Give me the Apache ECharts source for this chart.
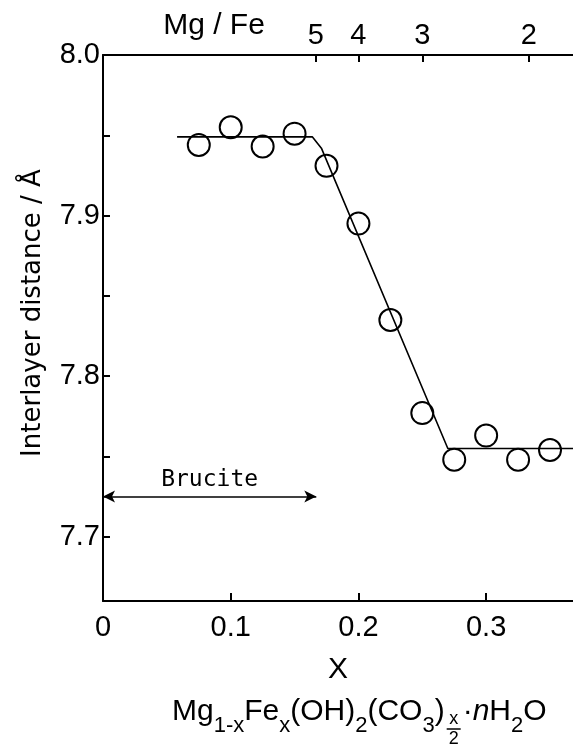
<!DOCTYPE html>
<html>
<head>
<meta charset="utf-8">
<script src="https://cdn.jsdelivr.net/npm/echarts@6/dist/echarts.min.js"></script>
<style>
  html, body { margin: 0; padding: 0; background: #fff; }
  #chart { width: 573px; height: 744px; }
</style>
</head>
<body>
<div id="chart"></div>
<script>
// ---------- DATA ----------
const xValues = [0.075, 0.1, 0.125, 0.15, 0.175, 0.2, 0.225, 0.25, 0.275, 0.3, 0.325, 0.35];
const distances = [7.944, 7.955, 7.943, 7.951, 7.931, 7.895, 7.835, 7.777, 7.748, 7.763, 7.748, 7.754];

// hand-drawn guide line through the points
const trendX = [0.058, 0.164, 0.171, 0.27, 0.368];
const trendY = [7.949, 7.949, 7.942, 7.755, 7.755];

// brucite reference arrow: from x = 0 to x = 1/6, at this distance
const bruciteRange = [0, 0.167];
const bruciteLevel = 7.725;

const xLabelValues = [0, 0.1, 0.2, 0.3];
const xTickValues = [0.1, 0.2, 0.3];
const yLabelValues = [7.7, 7.8, 7.9, 8.0];
const yTickValues = [7.7, 7.75, 7.8, 7.85, 7.9, 7.95, 8.0];
const mgFeRatios = [5, 4, 3, 2];

const FONT = 'Liberation Sans';
const AXIS_MIN_X = 0, AXIS_MAX_X = 0.368;

// Mg/Fe = (1-x)/x  ->  x = 1/(1+r)
const mgFeTicks = mgFeRatios.map(r => 1 / (1 + r));

function mgFeLabel(v) {
  for (let i = 0; i < mgFeTicks.length; i++) {
    if (Math.abs(mgFeTicks[i] - v) < 1e-6) return String(mgFeRatios[i]);
  }
  return '';
}

// ---------- formula under the x axis ----------
const measureCtx = document.createElement('canvas').getContext('2d');
function textWidth(t, size, style) {
  measureCtx.font = (style || 'normal') + ' ' + size + 'px "' + FONT + '"';
  return measureCtx.measureText(t).width;
}

function buildFormula(left, baseline) {
  const big = 30, small = 22;
  const parts = [
    { t: 'Mg', s: big }, { t: '1-x', s: small, sub: true },
    { t: 'Fe', s: big }, { t: 'x', s: small, sub: true },
    { t: '(OH)', s: big }, { t: '2', s: small, sub: true },
    { t: '(CO', s: big }, { t: '3', s: small, sub: true },
    { t: ')', s: big }, { frac: true },
    { t: '·', s: big }, { t: 'n', s: big, style: 'italic' },
    { t: 'H', s: big }, { t: '2', s: small, sub: true }, { t: 'O', s: big }
  ];
  const els = [];
  let x = left;
  parts.forEach(p => {
    if (p.frac) {
      const w = 16;
      const cx = x + w / 2 + 1;
      els.push({ type: 'text', x: cx, y: baseline + 8, style: { text: 'x', fontSize: 18, fontFamily: FONT, fill: '#000', align: 'center', verticalAlign: 'bottom' } });
      els.push({ type: 'line', shape: { x1: cx - 7, y1: baseline + 9, x2: cx + 7, y2: baseline + 9 }, style: { stroke: '#000', lineWidth: 1.5 } });
      els.push({ type: 'text', x: cx, y: baseline + 10, style: { text: '2', fontSize: 18, fontFamily: FONT, fill: '#000', align: 'center', verticalAlign: 'top' } });
      x += w + 2;
      return;
    }
    const y = p.sub ? baseline + 12 : baseline;
    els.push({
      type: 'text', x: x, y: y + p.s * 0.22,
      style: { text: p.t, fontSize: p.s, fontFamily: FONT, fontStyle: p.style || 'normal', fill: '#000', align: 'left', verticalAlign: 'bottom' }
    });
    x += textWidth(p.t, p.s, p.style);
  });
  return els;
}

// ---------- CHART ----------
const chart = echarts.init(document.getElementById('chart'));

const axisLineStyle = { color: '#000', width: 2 };
const labelStyle = { color: '#000', fontSize: 29, fontFamily: FONT };

const option = {
  animation: false,
  backgroundColor: '#fff',
  grid: { left: 103, right: 0, top: 55, bottom: 143 },
  xAxis: [
    {
      type: 'value',
      position: 'bottom',
      min: AXIS_MIN_X,
      max: AXIS_MAX_X,
      axisLine: { show: true, onZero: false, lineStyle: axisLineStyle },
      axisTick: { show: true, inside: true, length: 8, customValues: xTickValues, lineStyle: axisLineStyle },
      axisLabel: Object.assign({
        customValues: xLabelValues,
        margin: 12,
        formatter: v => (v === 0 ? '0' : v.toFixed(1))
      }, labelStyle),
      splitLine: { show: false },
      name: 'X',
      nameLocation: 'middle',
      nameGap: 54,
      nameTextStyle: { color: '#000', fontSize: 30, fontFamily: FONT, verticalAlign: 'top' }
    },
    {
      type: 'value',
      position: 'top',
      min: AXIS_MIN_X,
      max: AXIS_MAX_X,
      axisLine: { show: true, onZero: false, lineStyle: axisLineStyle },
      axisTick: { show: true, inside: true, length: 7, customValues: mgFeTicks, lineStyle: axisLineStyle },
      axisLabel: Object.assign({
        customValues: mgFeTicks,
        margin: 5,
        formatter: mgFeLabel
      }, labelStyle),
      splitLine: { show: false }
    }
  ],
  yAxis: {
    type: 'value',
    min: 7.66,
    max: 8.0,
    axisLine: { show: true, onZero: false, lineStyle: axisLineStyle },
    axisTick: { show: true, inside: true, length: 7, customValues: yTickValues, lineStyle: axisLineStyle },
    axisLabel: Object.assign({
      customValues: yLabelValues,
      margin: 3,
      formatter: v => v.toFixed(1)
    }, labelStyle),
    splitLine: { show: false }
  },
  graphic: [
    {
      type: 'text', x: 214, y: 26,
      style: { text: 'Mg / Fe', fontSize: 30, fontFamily: FONT, fill: '#000', align: 'center', verticalAlign: 'middle' }
    },
    {
      type: 'text', x: 33, y: 313, rotation: Math.PI / 2,
      style: { text: 'Interlayer distance / Å', fontSize: 26, fontFamily: 'DejaVu Sans', fill: '#000', align: 'center', verticalAlign: 'middle' }
    }
  ].concat(buildFormula(172, 720)),
  series: [
    {
      name: 'guide',
      type: 'line',
      xAxisIndex: 0,
      data: trendX.map((x, i) => [x, trendY[i]]),
      symbol: 'none',
      silent: true,
      lineStyle: { color: '#000', width: 1.6 },
      markLine: {
        silent: true,
        symbol: ['arrow', 'arrow'],
        symbolSize: [9, 12],
        lineStyle: { color: '#000', width: 1.6, type: 'solid' },
        label: {
          show: true,
          position: 'middle',
          formatter: 'Brucite',
          color: '#000',
          fontSize: 23,
          fontFamily: 'DejaVu Sans Mono',
          distance: 5
        },
        data: [[
          { coord: [bruciteRange[0], bruciteLevel] },
          { coord: [bruciteRange[1], bruciteLevel] }
        ]]
      }
    },
    {
      name: 'halo',
      type: 'scatter',
      data: xValues.map((x, i) => [x, distances[i]]),
      symbol: 'circle',
      symbolSize: 29,
      silent: true,
      itemStyle: { color: '#fff', borderWidth: 0 }
    },
    {
      name: 'points',
      type: 'scatter',
      data: xValues.map((x, i) => [x, distances[i]]),
      symbol: 'circle',
      symbolSize: 22,
      itemStyle: { color: '#fff', borderColor: '#000', borderWidth: 2, opacity: 1 }
    }
  ]
};

chart.setOption(option);
</script>
</body>
</html>
